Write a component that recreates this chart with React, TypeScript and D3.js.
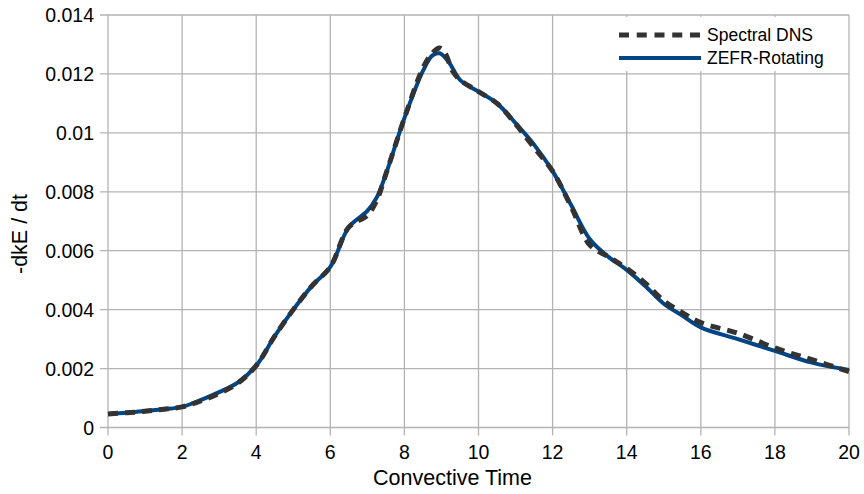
import React, { useEffect, useRef } from 'react';
import * as d3 from 'd3';

// time samples (convective time units)
const timeZefr = [0, 0.5, 1, 1.5, 2, 2.5, 3, 3.5, 4, 4.5, 5, 5.5, 6, 6.5, 7, 7.25, 7.5, 8, 8.5, 8.75, 8.95, 9.2, 9.5, 10, 10.5, 11, 11.5, 12, 12.5, 13, 13.5, 14, 14.5, 15, 15.5, 16, 17, 18, 19, 20];
const zefr = [0.00046, 0.0005, 0.00056, 0.00062, 0.0007, 0.00093, 0.0012, 0.00152, 0.0021, 0.0031, 0.004, 0.0048, 0.00545, 0.0068, 0.00735, 0.0078, 0.0086, 0.0105, 0.0121, 0.01262, 0.0127, 0.0124, 0.0118, 0.0114, 0.011, 0.01033, 0.0096, 0.0087, 0.00755, 0.0064, 0.0058, 0.00535, 0.0048, 0.0042, 0.0038, 0.0034, 0.003, 0.0026, 0.0022, 0.00195];

const timeDns = [0, 0.5, 1, 1.5, 2, 2.5, 3, 3.5, 4, 4.5, 5, 5.5, 6, 6.5, 7, 7.25, 7.5, 8, 8.5, 8.75, 8.95, 9.1, 9.3, 9.5, 10, 10.5, 11, 11.5, 12, 12.5, 13, 13.5, 14, 14.5, 15, 15.5, 16, 17, 18, 19, 20];
const dns = [0.00046, 0.0005, 0.00055, 0.00062, 0.0007, 0.0009, 0.00116, 0.0015, 0.0021, 0.0031, 0.004, 0.0048, 0.00545, 0.0068, 0.0072, 0.0077, 0.0086, 0.0105, 0.0122, 0.0127, 0.01288, 0.0127, 0.0121, 0.0118, 0.0114, 0.011, 0.0103, 0.0095, 0.0087, 0.0075, 0.0062, 0.0058, 0.0054, 0.0049, 0.0043, 0.0039, 0.00356, 0.0032, 0.0027, 0.0023, 0.0019];

const xTicks = [0, 2, 4, 6, 8, 10, 12, 14, 16, 18, 20];
const yTicks = [0, 0.002, 0.004, 0.006, 0.008, 0.01, 0.012, 0.014];
const yTickLabels = ['0', '0.002', '0.004', '0.006', '0.008', '0.01', '0.012', '0.014'];

const App = () => {
    const svgRef = useRef<SVGSVGElement>(null);

    useEffect(() => {
        const svg = d3.select(svgRef.current);
        svg.selectAll('*').remove();

        const font = '"Liberation Sans", Arial, sans-serif';
        const grid = '#b3b3b3';

        const x = d3.scaleLinear().domain([0, 20]).range([108, 849]);
        const y = d3.scaleLinear().domain([0, 0.014]).range([427.5, 15]);

        // grid
        svg.append('g').selectAll('line').data(xTicks).enter().append('line')
            .attr('x1', d => x(d)).attr('x2', d => x(d))
            .attr('y1', y(0.014)).attr('y2', y(0) + 8)
            .attr('stroke', grid).attr('stroke-width', 1.3);
        svg.append('g').selectAll('line').data(yTicks).enter().append('line')
            .attr('x1', x(0) - 8).attr('x2', x(20))
            .attr('y1', d => y(d)).attr('y2', d => y(d))
            .attr('stroke', grid).attr('stroke-width', 1.3);

        // tick labels
        svg.append('g').selectAll('text').data(xTicks).enter().append('text')
            .attr('x', d => x(d)).attr('y', 459)
            .attr('text-anchor', 'middle')
            .style('font-family', font).style('font-size', '19.5px').attr('fill', '#000')
            .text(d => d);
        svg.append('g').selectAll('text').data(yTicks).enter().append('text')
            .attr('x', 94).attr('y', d => y(d) + 7.3)
            .attr('text-anchor', 'end')
            .style('font-family', font).style('font-size', '19.5px').attr('fill', '#000')
            .text((d, i) => yTickLabels[i]);

        // axis titles
        svg.append('text')
            .attr('x', x(10) - 26).attr('y', 485)
            .attr('text-anchor', 'middle')
            .style('font-family', font).style('font-size', '21.5px')
            .text('Convective Time');
        svg.append('text')
            .attr('transform', 'translate(27,234) rotate(-90)')
            .attr('text-anchor', 'middle')
            .style('font-family', font).style('font-size', '21.5px')
            .text('-dkE / dt');

        // lines
        const lineZ = d3.line<number>()
            .x((d, i) => x(timeZefr[i])).y(d => y(d))
            .curve(d3.curveCatmullRom.alpha(0.5));
        const lineD = d3.line<number>()
            .x((d, i) => x(timeDns[i])).y(d => y(d))
            .curve(d3.curveCatmullRom.alpha(0.5));

        svg.append('path').datum(zefr)
            .attr('d', lineZ).attr('fill', 'none')
            .attr('stroke', '#004586').attr('stroke-width', 4);
        svg.append('path').datum(dns)
            .attr('d', lineD).attr('fill', 'none')
            .attr('stroke', '#333333').attr('stroke-width', 5)
            .attr('stroke-dasharray', '10,7');

        // legend
        const lg = svg.append('g');
        lg.append('rect').attr('x', 611).attr('y', 17).attr('width', 237).attr('height', 54).attr('fill', '#fff');
        lg.append('line').attr('x1', 619).attr('x2', 700).attr('y1', 35).attr('y2', 35)
            .attr('stroke', '#333333').attr('stroke-width', 5).attr('stroke-dasharray', '10,7.75');
        lg.append('line').attr('x1', 619).attr('x2', 701).attr('y1', 58).attr('y2', 58)
            .attr('stroke', '#004586').attr('stroke-width', 4);
        lg.append('text').attr('x', 707).attr('y', 41)
            .style('font-family', font).style('font-size', '17.5px').text('Spectral DNS');
        lg.append('text').attr('x', 707).attr('y', 64)
            .style('font-family', font).style('font-size', '17.5px').text('ZEFR-Rotating');
    }, []);

    return (
        <svg ref={svgRef} width={864} height={494}
            style={{ position: 'absolute', left: 0, top: 0, background: '#fff' }} />
    );
};

export default App;
